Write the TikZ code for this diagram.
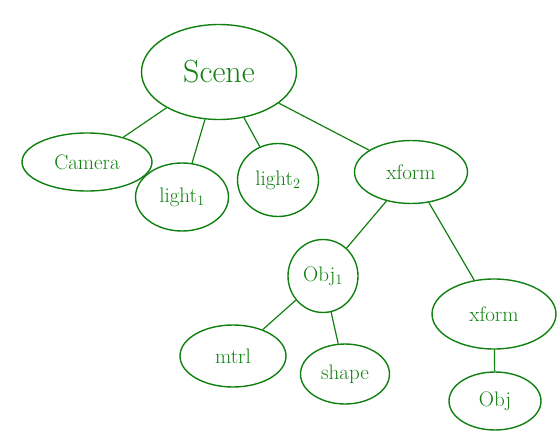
\documentclass[tikz,border=0pt]{standalone}
\usepackage{fontspec}
\usetikzlibrary{shapes.geometric}
\definecolor{pen}{RGB}{16,128,16}
\begin{document}
\begin{tikzpicture}[x=1pt,y=-1pt,
  blob/.style={ellipse,draw=pen,line width=1.4pt,text=pen,inner sep=0pt,font=\fontsize{21}{23}\selectfont},
  link/.style={draw=pen,line width=1.2pt}]
\useasboundingbox (0,0) rectangle (560,431);
\node[blob,minimum width=155pt,minimum height=95pt,font=\fontsize{32}{34}\selectfont] (scene) at (219,72) {Scene};
\node[blob,minimum width=130pt,minimum height=58pt] (camera) at (87,162) {Camera};
\node[blob,minimum width=93pt,minimum height=68pt] (light1) at (182,197) {light$_1$};
\node[blob,minimum width=81pt,minimum height=73pt] (light2) at (278,180) {light$_2$};
\node[blob,minimum width=113pt,minimum height=63pt] (xform1) at (411,172) {xform};
\node[blob,minimum width=70pt,minimum height=73pt] (obj1) at (323,276) {Obj$_1$};
\node[blob,minimum width=124pt,minimum height=70pt] (xform2) at (494,314) {xform};
\node[blob,minimum width=106pt,minimum height=62pt] (mtrl) at (233,356) {mtrl};
\node[blob,minimum width=89pt,minimum height=60pt] (shape) at (345,374) {shape};
\node[blob,minimum width=92pt,minimum height=58pt] (obj2) at (495,401) {Obj};
\draw[link] (scene) -- (camera);
\draw[link] (scene) -- (light1);
\draw[link] (scene) -- (light2);
\draw[link] (scene) -- (xform1);
\draw[link] (xform1) -- (obj1);
\draw[link] (xform1) -- (xform2);
\draw[link] (obj1) -- (mtrl);
\draw[link] (obj1) -- (shape);
\draw[link] (xform2) -- (obj2);
\end{tikzpicture}
\end{document}
